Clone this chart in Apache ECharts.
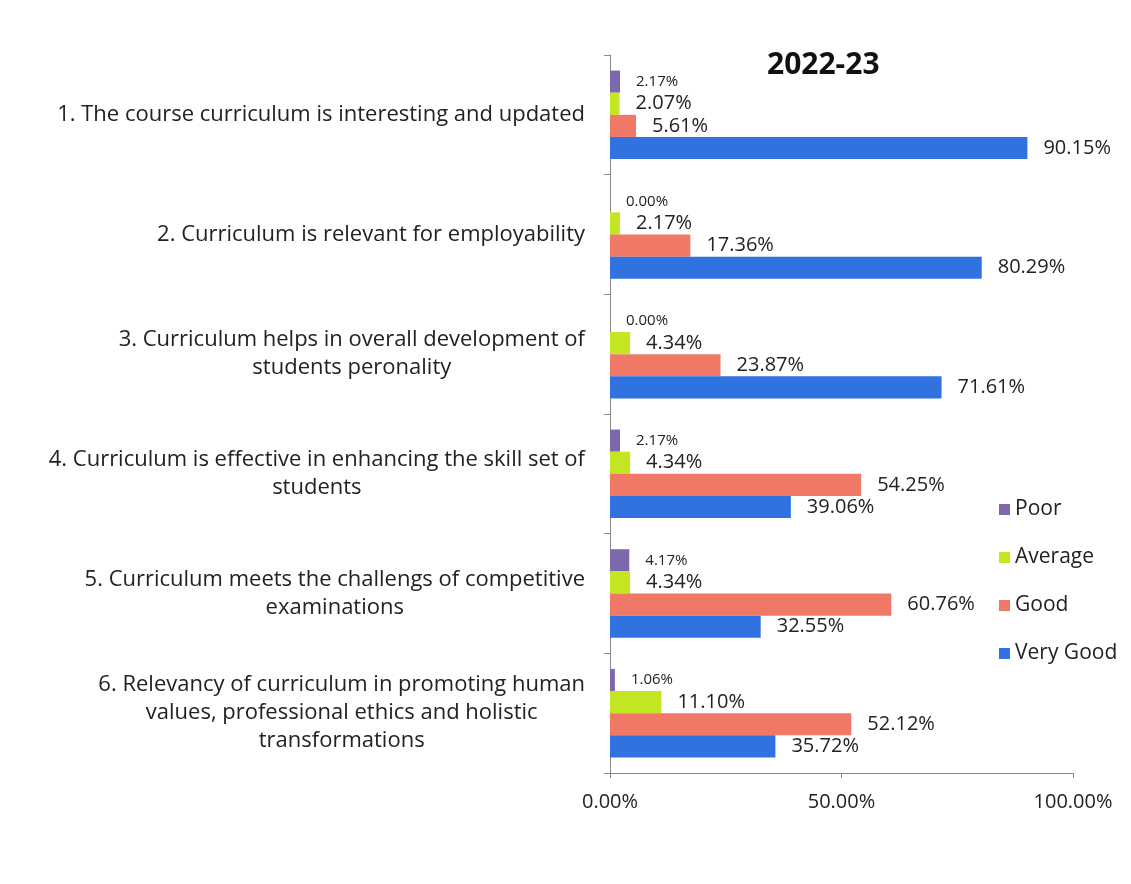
<!DOCTYPE html>
<html>
<head>
<meta charset="utf-8">
<script src="https://cdn.jsdelivr.net/npm/echarts@6/dist/echarts.min.js"></script>
<style>
  html, body { margin: 0; padding: 0; background: #fff; }
  #chart { width: 1131px; height: 884px; }
</style>
</head>
<body>
<div id="chart"></div>
<script>
const categories = [
  '1. The course curriculum is interesting and updated',
  '2. Curriculum is relevant for employability',
  '3. Curriculum helps in overall development of\nstudents peronality',
  '4. Curriculum is effective in enhancing the skill set of\nstudents',
  '5. Curriculum meets the challengs of competitive\nexaminations',
  '6. Relevancy of curriculum in promoting human\nvalues, professional ethics and holistic\ntransformations'
];
const poor = [2.17, 0.00, 0.00, 2.17, 4.17, 1.06];
const average = [2.07, 2.17, 4.34, 4.34, 4.34, 11.10];
const good = [5.61, 17.36, 23.87, 54.25, 60.76, 52.12];
const veryGood = [90.15, 80.29, 71.61, 39.06, 32.55, 35.72];
const xTicks = [0, 50, 100];

const font = '"Open Sans", Lato, sans-serif';

function makeSeries(name, data, color, labelSize) {
  return {
    name: name,
    type: 'bar',
    data: data,
    barGap: '0%',
    barCategoryGap: '26%',
    itemStyle: { color: color },
    label: {
      show: true,
      position: 'right',
      distance: 16,
      fontFamily: font,
      fontSize: labelSize,
      color: '#222',
      formatter: p => p.value.toFixed(2) + '%'
    }
  };
}

const chart = echarts.init(document.getElementById('chart'));
chart.setOption({
  backgroundColor: '#fff',
  animation: false,
  title: {
    text: '2022-23',
    left: 762,
    top: 45,
    textStyle: { fontFamily: font, fontSize: 30, fontWeight: 'bold', color: '#111' }
  },
  legend: {
    orient: 'vertical',
    left: 994,
    top: 494,
    itemWidth: 11,
    itemHeight: 11,
    itemGap: 27,
    icon: 'rect',
    textStyle: { fontFamily: font, fontSize: 21, color: '#222' },
    data: ['Poor', 'Average', 'Good', 'Very Good']
  },
  grid: { left: 610, right: 58, top: 55, bottom: 111 },
  xAxis: {
    type: 'value',
    min: xTicks[0],
    max: xTicks[xTicks.length - 1],
    interval: 50,
    axisLine: { show: true, lineStyle: { color: '#888' } },
    axisTick: { show: true, length: 5, lineStyle: { color: '#888' } },
    splitLine: { show: false },
    axisLabel: {
      margin: 19,
      fontFamily: font,
      fontSize: 20,
      color: '#222',
      formatter: v => v.toFixed(2) + '%'
    }
  },
  yAxis: {
    type: 'category',
    inverse: true,
    data: categories,
    axisLine: { show: true, lineStyle: { color: '#888' } },
    axisTick: { show: true, length: 6, lineStyle: { color: '#888' } },
    axisLabel: {
      margin: 25,
      fontFamily: font,
      fontSize: 22,
      color: '#222',
      lineHeight: 28,
      formatter: v => v.split('\n').map(s => '{c|' + s + '}').join('\n'),
      rich: {
        c: { align: 'center', fontFamily: font, fontSize: 22, color: '#222', lineHeight: 28 }
      }
    }
  },
  series: [
    makeSeries('Poor', poor, '#7d67ad', 15),
    makeSeries('Average', average, '#c3e622', 20),
    makeSeries('Good', good, '#f07867', 20),
    makeSeries('Very Good', veryGood, '#2f72e0', 20)
  ]
});
</script>
</body>
</html>
